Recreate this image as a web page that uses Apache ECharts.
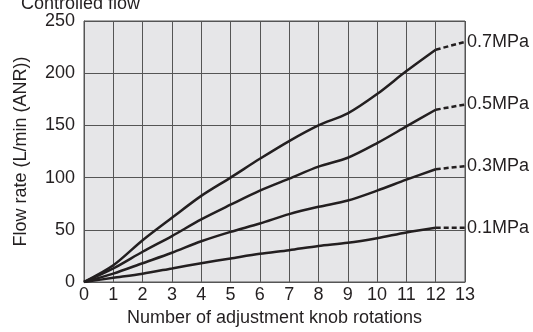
<!DOCTYPE html>
<html>
<head>
<meta charset="utf-8">
<script src="https://cdn.jsdelivr.net/npm/echarts@6/dist/echarts.min.js"></script>
<style>
  html, body { margin: 0; padding: 0; background: #fff; }
  #chart { width: 533px; height: 332px; }
</style>
</head>
<body>
<div id="chart"></div>
<script>
// knob rotations 0..12 for solid curves; dashed tail goes 12 -> 13
const rotations = [0, 1, 2, 3, 4, 5, 6, 7, 8, 9, 10, 11, 12];
const pressureNames = ["0.7MPa", "0.5MPa", "0.3MPa", "0.1MPa"];
const flow07 = [0, 16, 40, 61.5, 82.5, 100, 118, 135, 150, 161.5, 180, 202, 222.5];
const flow05 = [0, 13, 29, 44, 60, 74, 87.5, 99, 110.5, 119, 133, 149, 165];
const flow03 = [0, 8, 18, 28, 39, 48, 56, 65, 72, 78, 87.5, 98, 108];
const flow01 = [0, 4, 8, 13, 18, 22.5, 27, 30.5, 34.5, 37.5, 42, 47.5, 52];
const tailAt13 = [230, 170, 111, 52];

const chart = echarts.init(document.getElementById("chart"), null, { renderer: "canvas" });
const font = "Liberation Sans, Arial, sans-serif";
const ink = "#231f20";
const fs = 18;

const solid = [flow07, flow05, flow03, flow01].map((vals, i) => ({
  name: pressureNames[i],
  type: "line",
  smooth: 0.3,
  symbol: "none",
  lineStyle: { color: ink, width: 2.5 },
  data: rotations.map((r, j) => [r, vals[j]]),
  z: 3,
}));

const dashed = [flow07, flow05, flow03, flow01].map((vals, i) => ({
  name: pressureNames[i],
  type: "line",
  symbol: "none",
  lineStyle: { color: ink, width: 2.5, type: [5, 3] },
  data: [[12, vals[12]], [13, tailAt13[i]]],
  endLabel: {
    show: true,
    formatter: "{a}",
    color: ink,
    fontSize: fs,
    fontFamily: font,
    distance: 2,
  },
  z: 3,
}));

const option = {
  animation: false,
  title: {
    text: "Controlled flow",
    left: 16,
    top: -10,
    textStyle: { fontSize: fs, fontWeight: "normal", color: ink, fontFamily: font },
  },
  grid: {
    left: 84,
    right: 68,
    top: 21,
    bottom: 45,
    show: true,
    backgroundColor: "#e6e6e8",
    borderColor: "#555",
    borderWidth: 1,
  },
  xAxis: {
    type: "value",
    min: 0,
    max: 13,
    interval: 1,
    name: "Number of adjustment knob rotations",
    nameLocation: "middle",
    nameGap: 27,
    nameTextStyle: { fontSize: fs, color: ink, fontFamily: font },
    axisLine: { show: true, lineStyle: { color: "#555", width: 1 } },
    axisTick: { show: false },
    axisLabel: { fontSize: fs, color: ink, fontFamily: font, margin: 4 },
    splitLine: { show: true, lineStyle: { color: "#555", width: 1 } },
  },
  yAxis: {
    type: "value",
    min: 0,
    max: 250,
    interval: 50,
    name: "Flow rate (L/min (ANR))",
    nameLocation: "middle",
    nameGap: 54,
    nameTextStyle: { fontSize: fs, color: ink, fontFamily: font },
    axisLine: { show: true, lineStyle: { color: "#555", width: 1 } },
    axisTick: { show: false },
    axisLabel: { fontSize: fs, color: ink, fontFamily: font, margin: 9 },
    splitLine: { show: true, lineStyle: { color: "#555", width: 1 } },
  },
  series: [...solid, ...dashed],
};

option && chart.setOption(option);
</script>
</body>
</html>
